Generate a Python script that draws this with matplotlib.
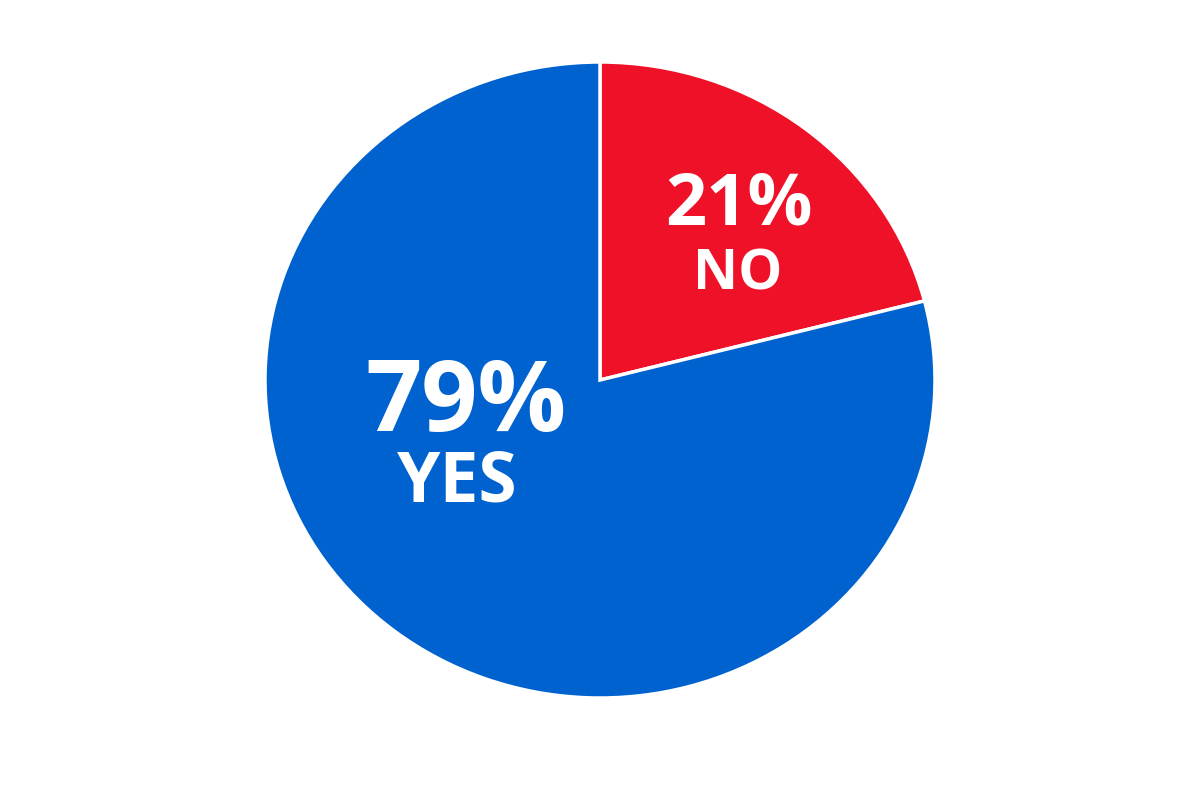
import matplotlib
matplotlib.use("Agg")
import matplotlib.pyplot as plt

# poll result
labels = ["NO", "YES"]
values = [21, 79]
colors = ["#EF1128", "#0062CE"]

plt.rcParams['font.family'] = ['Open Sans', 'DejaVu Sans']

fig = plt.figure(figsize=(12, 8), dpi=100)
fig.patch.set_facecolor("white")
# pie is a bit wider than tall in the reference
ax = fig.add_axes([265 / 1200, 102 / 800, 670 / 1200, 636 / 800])

wedges, _ = ax.pie(values, colors=colors, startangle=90, counterclock=False,
                   radius=1, wedgeprops=dict(edgecolor="white", linewidth=2.5))
ax.set_aspect("auto")
ax.set_xlim(-1, 1)
ax.set_ylim(-1, 1)
ax.axis("off")

# label positions (data coords) and sizes
pct_pos = [(0.415, 0.55), (-0.40, -0.08)]
name_pos = [(0.41, 0.33), (-0.425, -0.325)]
pct_size = [52, 71]
name_size = [40, 50]

for i, lab in enumerate(labels):
    ax.text(pct_pos[i][0], pct_pos[i][1], f"{values[i]}%", color="white",
            fontsize=pct_size[i], fontweight="bold", ha="center", va="center")
    ax.text(name_pos[i][0], name_pos[i][1], lab, color="white",
            fontsize=name_size[i], fontweight="bold", ha="center", va="center")

fig.savefig("out.png", dpi=100, facecolor="white")
